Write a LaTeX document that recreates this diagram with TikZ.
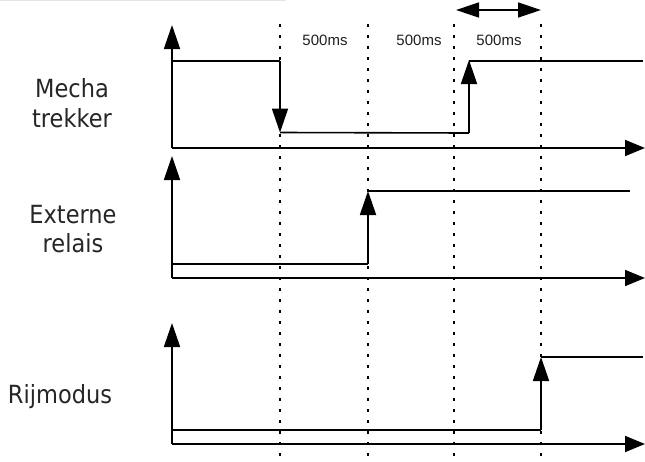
\documentclass[tikz,border=0pt]{standalone}
\usepackage{fontspec}
\setmainfont{Liberation Sans}
\newfontfamily\labfont[FakeStretch=0.9]{DejaVu Sans}
\usetikzlibrary{arrows.meta}
\begin{document}
\begin{tikzpicture}[x=1pt,y=-1pt,
  haxis/.style={line width=1.8pt,-{Triangle[length=20pt,width=16pt]}},
  vaxis/.style={line width=1.8pt,-{Triangle[length=24pt,width=16pt]}},
  sig/.style={line width=1.6pt},
  edgearr/.style={line width=1.8pt,-{Triangle[length=24pt,width=16pt]}},
  gridline/.style={line width=2pt,dash pattern=on 3pt off 8pt},
  lab/.style={font=\labfont\fontsize{25}{30}\selectfont,text=black!85,anchor=base,inner sep=0pt},
  ms/.style={font=\fontsize{15}{18}\selectfont,text=black!88,anchor=base,inner sep=0pt},
  span/.style={line width=1.5pt,{Triangle[length=23pt,width=15pt]}-{Triangle[length=23pt,width=15pt]}}]
\useasboundingbox (0,0) rectangle (645,461);
% faint clipped title edge
\draw[black!10,line width=1pt] (0,0.5) -- (286,0.5);

% grid lines
\foreach \gx/\nm in {280/ga,368/gb,454/gc,541/gd}{
  \coordinate (\nm top) at (\gx,24);
  \coordinate (\nm bot) at (\gx,461);
  \draw[gridline] (\nm top) -- (\nm bot);
}

% span arrow
\coordinate (spL) at (456,10);
\coordinate (spR) at (541,10);
\draw[span] (spL) -- (spR);

% 500ms labels
\node[ms] (msA) at (325,45) {500ms};
\node[ms] (msB) at (419,45) {500ms};
\node[ms] (msC) at (499,45) {500ms};

% ---------- Row 1 : Mecha trekker
\coordinate (o1) at (172,148);
\coordinate (t1) at (172,25);
\coordinate (e1) at (645,148);
\draw[vaxis] (o1) -- (t1);
\draw[haxis] (o1) -- (e1);
\coordinate (a1) at (172,61);
\coordinate (b1) at (280,61);
\coordinate (c1) at (280,132.5);
\coordinate (d1) at (469,133);
\coordinate (f1) at (469,60);
\coordinate (g1) at (643,61);
\draw[sig] (a1) -- (b1);
\draw[edgearr] (b1) -- (c1);
\draw[sig] (c1) -- (d1);
\draw[edgearr] (d1) -- (f1);
\draw[sig] (469,61) -- (g1);
\node[lab] (l1a) at (72,97) {Mecha};
\node[lab] (l1b) at (72,127) {trekker};

% ---------- Row 2 : Externe relais
\coordinate (o2) at (172,278);
\coordinate (t2) at (172,156);
\coordinate (e2) at (645,278);
\draw[vaxis] (o2) -- (t2);
\draw[haxis] (o2) -- (e2);
\coordinate (a2) at (172,264);
\coordinate (b2) at (368,264);
\coordinate (c2) at (368,191);
\coordinate (d2) at (630,191);
\draw[sig] (a2) -- (b2);
\draw[edgearr] (b2) -- (c2);
\draw[sig] (c2) -- (d2);
\node[lab] (l2a) at (73,223) {Externe};
\node[lab] (l2b) at (73,252) {relais};

% ---------- Row 3 : Rijmodus
\coordinate (o3) at (172,444);
\coordinate (t3) at (172,323);
\coordinate (e3) at (645,444);
\draw[vaxis] (o3) -- (t3);
\draw[haxis] (o3) -- (e3);
\coordinate (a3) at (172,430);
\coordinate (b3) at (541,430);
\coordinate (c3) at (541,357);
\coordinate (d3) at (643,357);
\draw[sig] (a3) -- (b3);
\draw[edgearr] (b3) -- (c3);
\draw[sig] (c3) -- (d3);
\node[lab] (l3) at (60,403) {Rijmodus};
\end{tikzpicture}
\end{document}
